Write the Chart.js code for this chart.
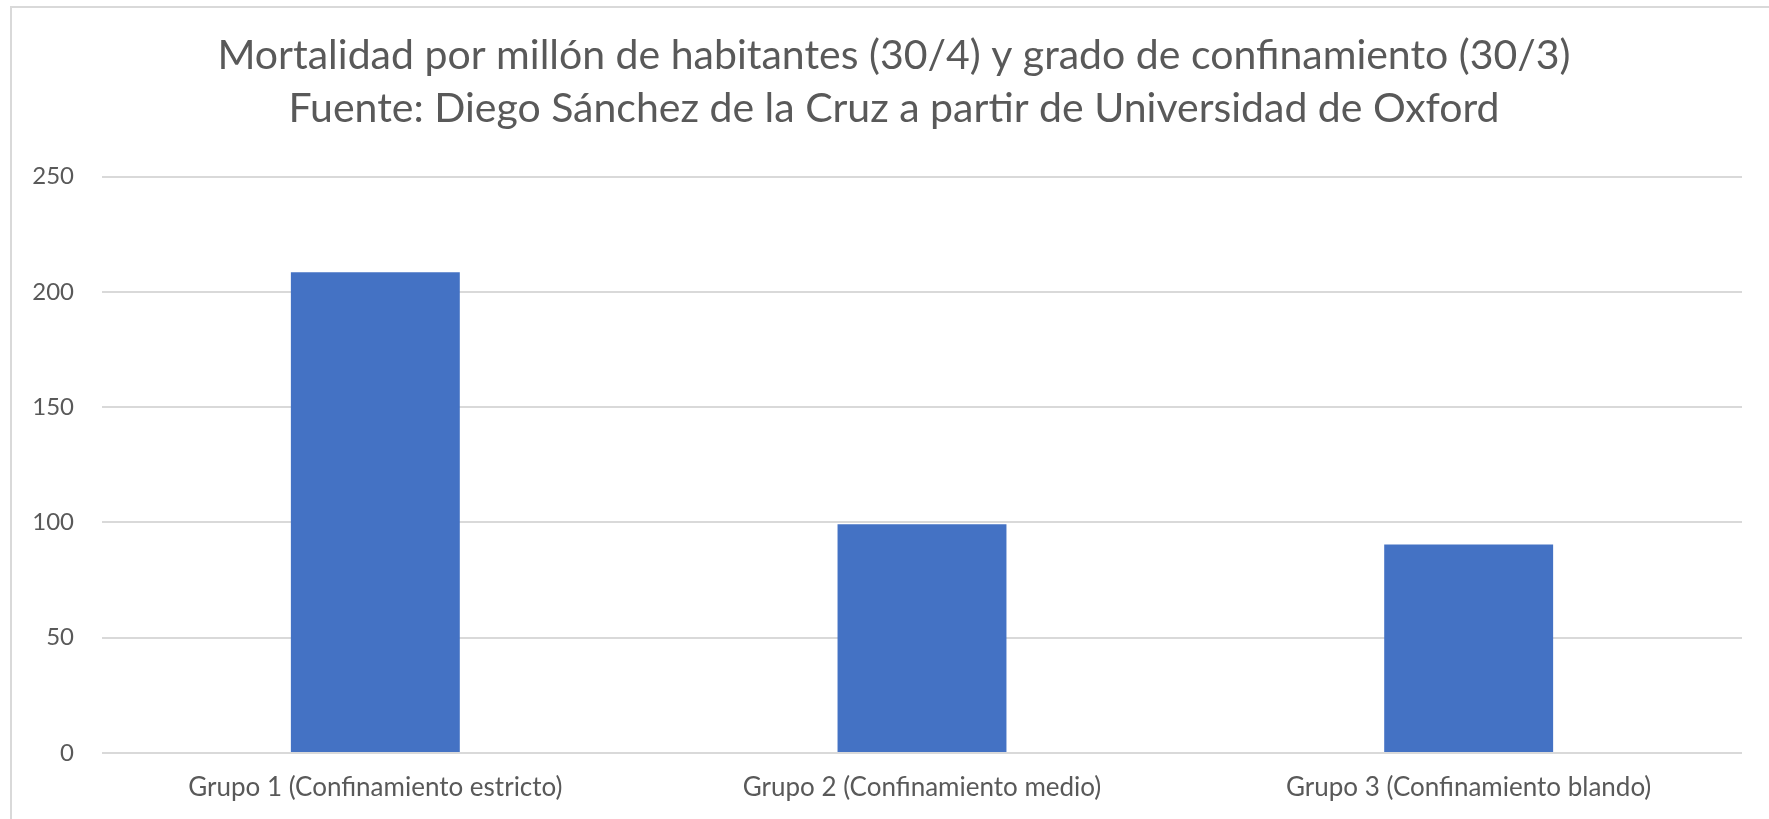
<!DOCTYPE html>
<html lang="es">
  <head>
    <meta charset="UTF-8" />
    <title>Mortalidad y confinamiento</title>
    <script src="https://cdn.jsdelivr.net/npm/chart.js@4.4.0/dist/chart.umd.min.js"></script>
    <style>
      html, body {
        margin: 0;
        padding: 0;
        background: #ffffff;
        overflow: hidden;
      }
      .frame {
        position: absolute;
        left: 10px;
        top: 6px;
        width: 1766px;
        height: 813px;
        border-left: 2px solid #d9d9d9;
        border-top: 2px solid #d9d9d9;
      }
      .frame .box {
        position: absolute;
        left: 0;
        top: 0;
        width: 1764px;
        height: 811px;
      }
    </style>
  </head>
  <body>
    <div class="frame">
      <div class="box"><canvas id="chart"></canvas></div>
    </div>

    <script>
      const titleLines = [
        "Mortalidad por millón de habitantes (30/4) y grado de confinamiento (30/3)",
        "Fuente: Diego Sánchez de la Cruz a partir de Universidad de Oxford",
      ];
      const categories = [
        "Grupo 1 (Confinamiento estricto)",
        "Grupo 2 (Confinamiento medio)",
        "Grupo 3 (Confinamiento blando)",
      ];
      const mortalidad = [208.5, 99.2, 90.4];
      const yTicks = [0, 50, 100, 150, 200, 250];

      const textColor = "#595959";
      const gridColor = "#d9d9d9";
      const fontFamily = "Lato, 'Open Sans', sans-serif";

      new Chart(document.getElementById("chart"), {
        type: "bar",
        data: {
          labels: categories,
          datasets: [
            {
              label: "Mortalidad por millón",
              data: mortalidad,
              backgroundColor: "#4472c4",
              borderWidth: 0,
              categoryPercentage: 1,
              barPercentage: 0.309,
            },
          ],
        },
        options: {
          responsive: true,
          maintainAspectRatio: false,
          animation: false,
          layout: { padding: 0 },
          plugins: {
            legend: { display: false },
            tooltip: { enabled: false },
            title: {
              display: true,
              text: titleLines,
              color: textColor,
              font: { family: fontFamily, size: 41, weight: "normal", lineHeight: 1.3 },
              padding: { top: 21, bottom: 41 },
            },
          },
          scales: {
            x: {
              grid: { display: false, drawTicks: false },
              border: { display: false },
              ticks: {
                color: textColor,
                font: { family: fontFamily, size: 26 },
                padding: 19,
                maxRotation: 0,
              },
              afterFit: (scale) => {
                scale.height = 66;
              },
            },
            y: {
              min: 0,
              max: 250,
              afterBuildTicks: (scale) => {
                scale.ticks = yTicks.map((v) => ({ value: v }));
              },
              grid: { color: gridColor, lineWidth: 2, drawTicks: false },
              border: { display: false },
              ticks: {
                color: textColor,
                font: { family: fontFamily, size: 24 },
                padding: 28,
              },
              afterFit: (scale) => {
                scale.width = 90;
              },
            },
            // empty right axis: just blank space so the title stays centred on the frame
            yRight: {
              axis: "y",
              position: "right",
              grid: { display: false, drawTicks: false },
              border: { display: false },
              ticks: { display: false },
              afterFit: (scale) => {
                scale.width = 34;
              },
            },
          },
        },
      });
    </script>
  </body>
</html>
